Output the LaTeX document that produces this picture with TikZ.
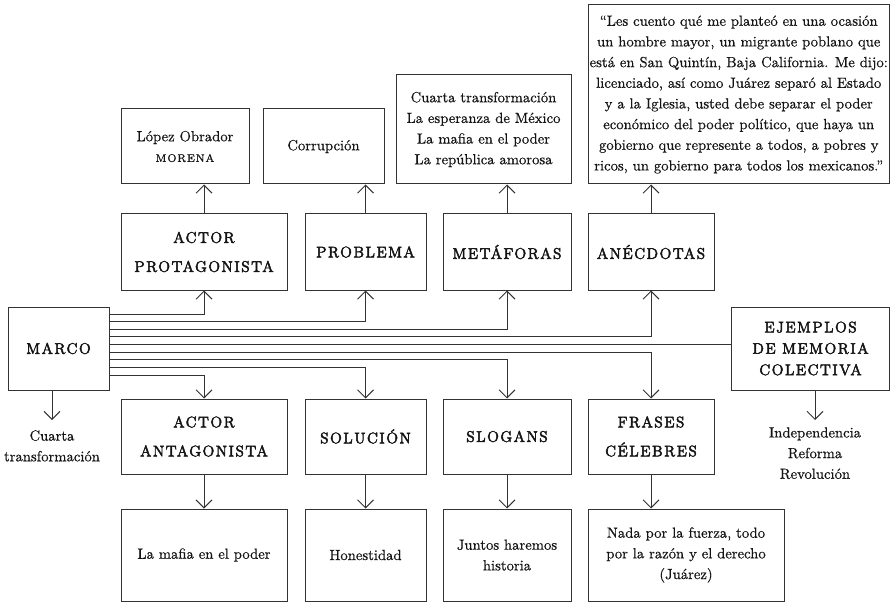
\documentclass[tikz,border=0pt]{standalone}
\usepackage{fontspec}
\setmainfont{Latin Modern Roman}
\usetikzlibrary{arrows.meta,calc}
\definecolor{ink}{HTML}{333333}
\definecolor{txt}{HTML}{141414}
\newcommand{\bodyfont}{\fontsize{11}{15.5}\selectfont\addfontfeatures{FakeBold=0.5}}
\newcommand{\hdtwo}{\fontsize{11.5}{21.75}\selectfont\addfontfeatures{LetterSpace=10,FakeBold=3.2}}
\newcommand{\hdthree}{\fontsize{11.5}{16}\selectfont\addfontfeatures{LetterSpace=10,FakeBold=3.2}}
\newcommand{\smallcapsword}[1]{{\fontsize{8.3}{15.5}\selectfont\addfontfeatures{LetterSpace=8,FakeBold=1}#1}}
\begin{document}
\begin{tikzpicture}[x=0.75pt,y=-0.75pt,
  every node/.style={font=\bodyfont, text=txt},
  box/.style={draw=ink, line width=0.75pt, inner sep=0pt, align=center},
  hbox/.style={box, font=\hdtwo},
  hbox3/.style={box, font=\hdthree},
  conn/.style={draw=ink, line width=0.75pt},
  arr/.style={conn, -{Straight Barb[length=6pt,width=12pt,line width=0.75pt]}},
  lbl/.style={inner sep=0pt, align=center, anchor=north}]
\useasboundingbox (0,0) rectangle (891,602);

% top row
\node[box, minimum width=96pt, minimum height=56.25pt] (lopez) at (185,146.5) {López Obrador\\\smallcapsword{MORENA}};
\node[box, minimum width=90.75pt, minimum height=56.25pt] (corr) at (323.5,146.5) {Corrupción};
\node[box, minimum width=131.25pt, minimum height=81.75pt] (metaph) at (483.5,129.5) {Cuarta transformación\\La esperanza de México\\La mafia en el poder\\La república amorosa};
\node[box, minimum width=225.75pt, minimum height=134.25pt] (quote) at (738.75,94.5) {“Les cuento qué me planteó en una ocasión\\un hombre mayor, un migrante poblano que\\está en San Quintín, Baja California. Me dijo:\\licenciado, así como Juárez separó al Estado\\y a la Iglesia, usted debe separar el poder\\económico del poder político, que haya un\\gobierno que represente a todos, a pobres y\\ricos, un gobierno para todos los mexicanos.”};

% second row
\node[hbox, minimum width=124.5pt, minimum height=57pt] (actp) at (204,252) {ACTOR\\PROTAGONISTA};
\node[hbox, minimum width=90.75pt, minimum height=57pt] (prob) at (365.5,252) {PROBLEMA};
\node[hbox, minimum width=96pt, minimum height=57pt] (meta) at (507,252) {METÁFORAS};
\node[hbox, minimum width=94.5pt, minimum height=57pt] (anec) at (651,252) {ANÉCDOTAS};

% middle
\node[hbox, minimum width=75.75pt, minimum height=62.25pt] (marco) at (58.5,348.5) {MARCO};
\node[hbox3, minimum width=118.5pt, minimum height=62.25pt] (ejem) at (810.5,348.5) {EJEMPLOS\\DE MEMORIA\\COLECTIVA};

% third row
\node[hbox, minimum width=124.5pt, minimum height=56.25pt] (acta) at (204,436.5) {ACTOR\\ANTAGONISTA};
\node[hbox, minimum width=90.75pt, minimum height=56.25pt] (sol) at (365.5,436.5) {SOLUCIÓN};
\node[hbox, minimum width=96pt, minimum height=56.25pt] (slog) at (507,436.5) {SLOGANS};
\node[hbox, minimum width=94.5pt, minimum height=56.25pt] (fras) at (651,436.5) {FRASES\\CÉLEBRES};

% bottom row
\node[box, minimum width=124.5pt, minimum height=69pt] (mafia) at (204,555) {La mafia en el poder};
\node[box, minimum width=90.75pt, minimum height=69pt] (hon) at (365.5,555) {Honestidad};
\node[box, minimum width=96pt, minimum height=69pt] (junt) at (507,555) {Juntos haremos\\historia};
\node[box, minimum width=147pt, minimum height=69pt] (nada) at (686,555) {Nada por la fuerza, todo\\por la razón y el derecho\\(Juárez)};

% free labels
\coordinate (ctop) at (52,420);
\coordinate (etop) at (815,420);
\node[lbl] (ct) at (52,430) {Cuarta\\transformación};
\node[lbl] (ir) at (815,427) {Independencia\\Reforma\\Revolución};

% vertical connectors
\draw[arr] (actp.north) -- (actp.north |- lopez.south);
\draw[arr] (prob.north) -- (prob.north |- corr.south);
\draw[arr] (meta.north) -- (meta.north |- metaph.south);
\draw[arr] (anec.north) -- (anec.north |- quote.south);
\draw[arr] (acta.south) -- (mafia.north);
\draw[arr] (sol.south) -- (hon.north);
\draw[arr] (slog.south) -- (junt.north);
\draw[arr] (fras.south) -- (fras.south |- nada.north);
\draw[arr] (marco.south -| ctop) -- (ctop);
\draw[arr] (ejem.south -| etop) -- (etop);

% marco bus
\draw[arr] (marco.east |- 0,314) -| (actp.south);
\draw[arr] (marco.east |- 0,321.5) -| (prob.south);
\draw[arr] (marco.east |- 0,329) -| (meta.south);
\draw[arr] (marco.east |- 0,336.5) -| (anec.south);
\draw[conn] (marco.east |- 0,344) -- (ejem.west |- 0,344);
\draw[arr] (marco.east |- 0,352) -| (fras.north);
\draw[arr] (marco.east |- 0,359.5) -| (slog.north);
\draw[arr] (marco.east |- 0,367) -| (sol.north);
\draw[arr] (marco.east |- 0,375) -| (acta.north);
\end{tikzpicture}
\end{document}
